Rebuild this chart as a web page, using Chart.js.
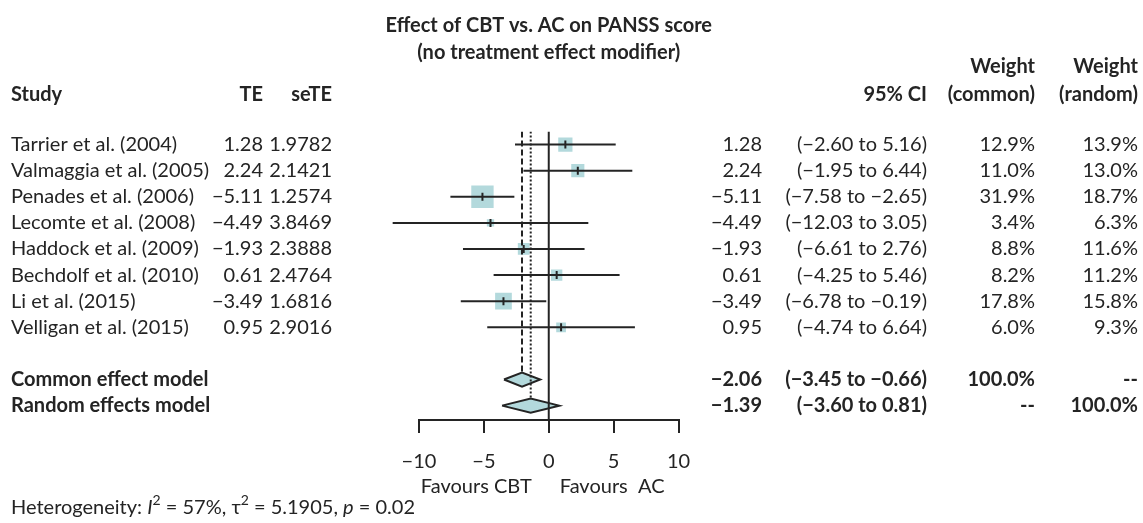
<!DOCTYPE html>
<html>
<head>
<meta charset="utf-8">
<title>Effect of CBT vs. AC on PANSS score</title>
<script src="https://cdn.jsdelivr.net/npm/chart.js"></script>
<style>
  html, body { margin: 0; padding: 0; background: #fff; }
  #forest { display: block; }
</style>
</head>
<body>
<canvas id="forest" width="1143" height="523"></canvas>
<script>
  // Study level data
  const studies = [
    'Tarrier et al. (2004)', 'Valmaggia et al. (2005)', 'Penades et al. (2006)',
    'Lecomte et al. (2008)', 'Haddock et al. (2009)', 'Bechdolf et al. (2010)',
    'Li et al. (2015)', 'Velligan et al. (2015)'
  ];
  const te = [1.28, 2.24, -5.11, -4.49, -1.93, 0.61, -3.49, 0.95];
  const seTE = [1.9782, 2.1421, 1.2574, 3.8469, 2.3888, 2.4764, 1.6816, 2.9016];
  const ciLower = [-2.60, -1.95, -7.58, -12.03, -6.61, -4.25, -6.78, -4.74];
  const ciUpper = [5.16, 6.44, -2.65, 3.05, 2.76, 5.46, -0.19, 6.64];
  const weightCommon = [12.9, 11.0, 31.9, 3.4, 8.8, 8.2, 17.8, 6.0];
  const weightRandom = [13.9, 13.0, 18.7, 6.3, 11.6, 11.2, 15.8, 9.3];

  // Pooled estimates
  const models = ['Common effect model', 'Random effects model'];
  const modelTE = [-2.06, -1.39];
  const modelLower = [-3.45, -3.60];
  const modelUpper = [-0.66, 0.81];
  const modelWeightCommon = ['100.0%', '--'];
  const modelWeightRandom = ['--', '100.0%'];

  // Heterogeneity
  const hetI2 = 57;
  const hetTau2 = 5.1905;
  const hetP = 0.02;

  const xTicks = [-10, -5, 0, 5, 10];
  const titleLines = ['Effect of CBT vs. AC on PANSS score', '(no treatment effect modifier)'];
  const labelLeft = 'Favours CBT';
  const labelRight = 'Favours  AC';

  const ink = '#242424';
  const teal = '#b3d9dc';
  const font = 'Lato, "Noto Sans", sans-serif';
  const sizeNormal = 20;
  const sizeBold = 20;

  const fmt = (v, d) => (v < 0 ? '\u2212' : '') + Math.abs(v).toFixed(d);

  const studyRows = studies.map((s, i) => i);
  const modelRows = models.map((m, i) => studies.length + 1 + i);
  const diamondHalf = 0.27;   // in rows
  const rowTop = -0.5;
  const rowAxis = 10.55;

  const datasets = [];

  // reference lines (drawn on top)
  datasets.push({
    data: [{ x: 0, y: rowTop }, { x: 0, y: rowAxis }],
    showLine: true, borderColor: ink, borderWidth: 2, pointRadius: 0, order: 0
  });
  datasets.push({
    data: [{ x: modelTE[0], y: rowTop }, { x: modelTE[0], y: modelRows[0] - diamondHalf }],
    showLine: true, borderColor: ink, borderWidth: 2, borderDash: [6, 3], pointRadius: 0, order: 0
  });
  datasets.push({
    data: [{ x: modelTE[1], y: rowTop }, { x: modelTE[1], y: modelRows[1] - diamondHalf }],
    showLine: true, borderColor: ink, borderWidth: 2, borderDash: [2, 2], pointRadius: 0, order: 0
  });

  // small tick at each point estimate
  datasets.push({
    data: te.map((v, i) => ({ x: v, y: studyRows[i] })),
    pointStyle: 'line', pointRotation: 90, pointRadius: 4,
    borderColor: ink, pointBorderWidth: 2, showLine: false, order: 1
  });

  // confidence interval lines
  studies.forEach((s, i) => {
    datasets.push({
      data: [{ x: ciLower[i], y: studyRows[i] }, { x: ciUpper[i], y: studyRows[i] }],
      showLine: true, borderColor: ink, borderWidth: 2, pointRadius: 0, clip: false, order: 2
    });
  });

  // pooled diamonds
  models.forEach((m, i) => {
    const r = modelRows[i];
    datasets.push({
      data: [
        { x: modelLower[i], y: r }, { x: modelTE[i], y: r - diamondHalf },
        { x: modelUpper[i], y: r }, { x: modelTE[i], y: r + diamondHalf },
        { x: modelLower[i], y: r }
      ],
      showLine: true, fill: 'shape', backgroundColor: teal, borderColor: ink,
      borderWidth: 2, borderJoinStyle: 'miter', pointRadius: 0, order: 3
    });
  });

  // weight squares
  datasets.push({
    data: te.map((v, i) => ({ x: v, y: studyRows[i] })),
    pointStyle: 'rect',
    pointRadius: weightCommon.map(w => 2.8 * Math.sqrt(w)),
    backgroundColor: teal, borderWidth: 0, showLine: false, order: 5
  });

  // Text columns around the plot
  const tablePlugin = {
    id: 'forestTable',
    afterDraw(chart) {
      const ctx = chart.ctx;
      const ys = chart.scales.y;
      const xs = chart.scales.x;
      const put = (txt, px, py, align, bold) => {
        ctx.font = bold ? 'bold ' + sizeBold + 'px ' + font : sizeNormal + 'px ' + font;
        ctx.textAlign = align;
        ctx.fillText(txt, px, py);
      };
      ctx.save();
      ctx.fillStyle = ink;
      ctx.textBaseline = 'middle';

      const cx = xs.getPixelForValue(0);
      put(titleLines[0], cx, 26, 'center', true);
      put(titleLines[1], cx, 53, 'center', true);

      const colStudy = 11, colTE = 263, colSE = 332, colEst = 762,
            colCI = 927, colWC = 1035, colWR = 1138;
      const hy = 95;
      put('Study', colStudy, hy, 'left', true);
      put('TE', colTE, hy, 'right', true);
      put('seTE', colSE, hy, 'right', true);
      put('95% CI', colCI, hy, 'right', true);
      put('Weight', colWC, 67, 'right', true);
      put('(common)', colWC, hy, 'right', true);
      put('Weight', colWR, 67, 'right', true);
      put('(random)', colWR, hy, 'right', true);

      studies.forEach((s, i) => {
        const py = ys.getPixelForValue(studyRows[i]);
        put(s, colStudy, py, 'left', false);
        put(fmt(te[i], 2), colTE, py, 'right', false);
        put(seTE[i].toFixed(4), colSE, py, 'right', false);
        put(fmt(te[i], 2), colEst, py, 'right', false);
        put('(' + fmt(ciLower[i], 2) + ' to ' + fmt(ciUpper[i], 2) + ')', colCI, py, 'right', false);
        put(weightCommon[i].toFixed(1) + '%', colWC, py, 'right', false);
        put(weightRandom[i].toFixed(1) + '%', colWR, py, 'right', false);
      });

      models.forEach((m, i) => {
        const py = ys.getPixelForValue(modelRows[i]);
        put(m, colStudy, py, 'left', true);
        put(fmt(modelTE[i], 2), colEst, py, 'right', true);
        put('(' + fmt(modelLower[i], 2) + ' to ' + fmt(modelUpper[i], 2) + ')', colCI, py, 'right', true);
        put(modelWeightCommon[i], colWC, py, 'right', true);
        put(modelWeightRandom[i], colWR, py, 'right', true);
      });

      put(labelLeft, cx - 17, 487, 'right', false);
      put(labelRight, cx + 11, 487, 'left', false);

      // heterogeneity line with italics and superscripts
      const parts = [
        ['Heterogeneity: ', '', 0], ['I', 'italic ', 0], ['2', '', 1],
        [' = ' + hetI2 + '%, ', '', 0], ['\u03c4', '', 0], ['2', '', 1],
        [' = ' + hetTau2.toFixed(4) + ', ', '', 0], ['p', 'italic ', 0],
        [' = ' + hetP.toFixed(2), '', 0]
      ];
      let px = colStudy;
      const py = 508;
      ctx.textAlign = 'left';
      parts.forEach(([t, style, sup]) => {
        ctx.font = style + (sup ? '14px ' : sizeNormal + 'px ') + font;
        ctx.fillText(t, px, sup ? py - 8 : py);
        px += ctx.measureText(t).width;
      });
      ctx.restore();
    }
  };

  function draw() {
    new Chart(document.getElementById('forest'), {
      type: 'scatter',
      data: { datasets: datasets },
      options: {
        responsive: false,
        animation: false,
        devicePixelRatio: 1,
        layout: { padding: { left: 419, right: 464.5, top: 131.5, bottom: 43 } },
        plugins: { legend: { display: false }, tooltip: { enabled: false } },
        scales: {
          x: {
            type: 'linear', position: 'bottom', min: xTicks[0], max: xTicks[xTicks.length - 1],
            afterFit: s => { s.height = 60; },
            afterBuildTicks: s => { s.ticks = xTicks.map(v => ({ value: v })); },
            ticks: {
              autoSkip: false, maxRotation: 0, padding: 17, color: ink,
              font: { family: font, size: sizeNormal },
              callback: v => fmt(v, 0)
            },
            grid: { drawOnChartArea: false, drawTicks: true, tickLength: 13, color: ink, lineWidth: 2 },
            border: { display: true, color: ink, width: 2 }
          },
          y: { type: 'linear', reverse: true, min: rowTop, max: rowAxis, display: false }
        }
      },
      plugins: [tablePlugin]
    });
  }

  if (document.fonts && document.fonts.load) {
    Promise.all([
      document.fonts.load('16px Lato'), document.fonts.load('bold 16px Lato'),
      document.fonts.load('italic 16px Lato')
    ]).then(draw, draw);
  } else {
    draw();
  }
</script>
</body>
</html>
